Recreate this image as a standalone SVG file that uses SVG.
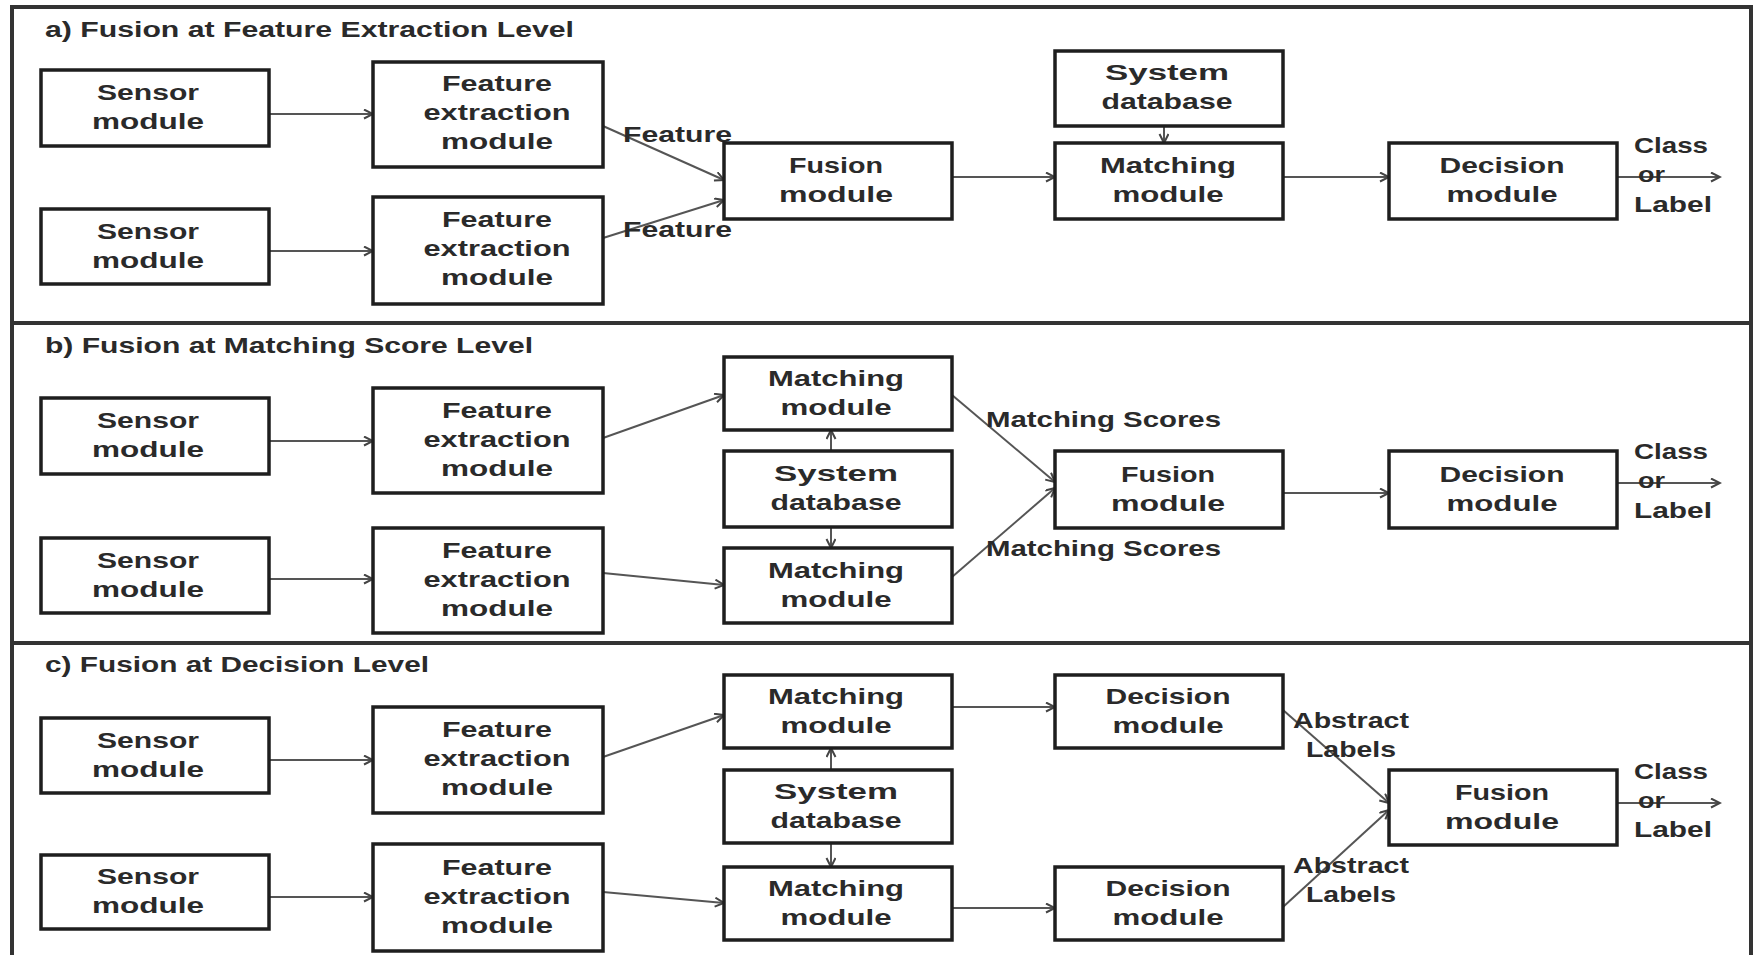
<svg xmlns="http://www.w3.org/2000/svg" width="1754" height="955" viewBox="0 0 1754 955">
<defs>
<marker id="ah" markerUnits="userSpaceOnUse" markerWidth="12" markerHeight="12" refX="10" refY="5" orient="auto">
<path d="M1,0.5 L10,5 L1,9.5" fill="none" stroke="#444" stroke-width="2"/>
</marker>
<style>
.box{fill:#fff;stroke:#1e1e1e;stroke-width:3.5}
.t{font-family:"Liberation Sans",Arial,sans-serif;font-weight:bold;font-size:22px;fill:#2a2a2a;text-anchor:middle}
.ts{font-family:"Liberation Sans",Arial,sans-serif;font-weight:bold;font-size:22px;fill:#2a2a2a;text-anchor:start}
.c{fill:none;stroke:#555;stroke-width:2;marker-end:url(#ah)}
.frame{fill:none;stroke:#333;stroke-width:4}
</style>
</defs>
<rect width="1754" height="955" fill="#fff"/>
<g id="frame">
<path class="frame" d="M12,955 L12,7 L1751,7 L1751,955"/>
<path class="frame" d="M12,323 L1751,323 M12,643 L1751,643"/>
</g>
<g id="titles">
<text class="ts" x="45" y="37" textLength="529" lengthAdjust="spacingAndGlyphs">a) Fusion at Feature Extraction Level</text>
<text class="ts" x="45" y="353" textLength="488" lengthAdjust="spacingAndGlyphs">b) Fusion at Matching Score Level</text>
<text class="ts" x="45" y="672" textLength="384" lengthAdjust="spacingAndGlyphs">c) Fusion at Decision Level</text>
</g>
<g id="connectors">
<line class="c" x1="269" y1="114" x2="373" y2="114"/>
<line class="c" x1="269" y1="251" x2="373" y2="251"/>
<line class="c" x1="603" y1="126" x2="724" y2="180"/>
<line class="c" x1="603" y1="238" x2="724" y2="200"/>
<line class="c" x1="952" y1="177" x2="1055" y2="177"/>
<line class="c" x1="1164" y1="126" x2="1164" y2="143"/>
<line class="c" x1="1283" y1="177" x2="1389" y2="177"/>
<line class="c" x1="1617" y1="177" x2="1720" y2="177"/>

<line class="c" x1="269" y1="441" x2="373" y2="441"/>
<line class="c" x1="269" y1="579" x2="373" y2="579"/>
<line class="c" x1="603" y1="438" x2="724" y2="395"/>
<line class="c" x1="603" y1="573" x2="724" y2="585"/>
<line class="c" x1="831" y1="451" x2="831" y2="430"/>
<line class="c" x1="831" y1="527" x2="831" y2="548"/>
<line class="c" x1="952" y1="395" x2="1055" y2="482"/>
<line class="c" x1="952" y1="577" x2="1055" y2="488"/>
<line class="c" x1="1283" y1="493" x2="1389" y2="493"/>
<line class="c" x1="1617" y1="483" x2="1720" y2="483"/>

<line class="c" x1="269" y1="760" x2="373" y2="760"/>
<line class="c" x1="269" y1="897" x2="373" y2="897"/>
<line class="c" x1="603" y1="757" x2="724" y2="715"/>
<line class="c" x1="603" y1="892" x2="724" y2="903"/>
<line class="c" x1="831" y1="770" x2="831" y2="748"/>
<line class="c" x1="831" y1="843" x2="831" y2="867"/>
<line class="c" x1="952" y1="707" x2="1055" y2="707"/>
<line class="c" x1="952" y1="908" x2="1055" y2="908"/>
<line class="c" x1="1283" y1="710" x2="1389" y2="803"/>
<line class="c" x1="1283" y1="907" x2="1389" y2="810"/>
<line class="c" x1="1617" y1="803" x2="1720" y2="803"/>
</g>
<g id="edge-labels">
<text class="ts" x="623" y="142" textLength="109" lengthAdjust="spacingAndGlyphs">Feature</text>
<text class="ts" x="623" y="237" textLength="109" lengthAdjust="spacingAndGlyphs">Feature</text>
<text class="ts" x="986" y="427" textLength="235" lengthAdjust="spacingAndGlyphs">Matching Scores</text>
<text class="ts" x="986" y="556" textLength="235" lengthAdjust="spacingAndGlyphs">Matching Scores</text>
<text class="ts" x="1293" y="728" textLength="116" lengthAdjust="spacingAndGlyphs">Abstract</text>
<text class="ts" x="1306" y="757" textLength="90" lengthAdjust="spacingAndGlyphs">Labels</text>
<text class="ts" x="1293" y="873" textLength="116" lengthAdjust="spacingAndGlyphs">Abstract</text>
<text class="ts" x="1306" y="902" textLength="90" lengthAdjust="spacingAndGlyphs">Labels</text>
<text class="ts" x="1634" y="153" textLength="74" lengthAdjust="spacingAndGlyphs">Class</text>
<text class="ts" x="1638" y="182" textLength="27" lengthAdjust="spacingAndGlyphs">or</text>
<text class="ts" x="1634" y="212" textLength="78" lengthAdjust="spacingAndGlyphs">Label</text>
<text class="ts" x="1634" y="459" textLength="74" lengthAdjust="spacingAndGlyphs">Class</text>
<text class="ts" x="1638" y="488" textLength="27" lengthAdjust="spacingAndGlyphs">or</text>
<text class="ts" x="1634" y="518" textLength="78" lengthAdjust="spacingAndGlyphs">Label</text>
<text class="ts" x="1634" y="779" textLength="74" lengthAdjust="spacingAndGlyphs">Class</text>
<text class="ts" x="1638" y="808" textLength="27" lengthAdjust="spacingAndGlyphs">or</text>
<text class="ts" x="1634" y="837" textLength="78" lengthAdjust="spacingAndGlyphs">Label</text>
</g>

<g id="a-sensor1"><rect class="box" x="41" y="70" width="228" height="76"/><text class="t" x="148" y="100" textLength="102" lengthAdjust="spacingAndGlyphs">Sensor</text><text class="t" x="148" y="129" textLength="112" lengthAdjust="spacingAndGlyphs">module</text></g>
<g id="a-sensor2"><rect class="box" x="41" y="209" width="228" height="75"/><text class="t" x="148" y="238.5" textLength="102" lengthAdjust="spacingAndGlyphs">Sensor</text><text class="t" x="148" y="267.5" textLength="112" lengthAdjust="spacingAndGlyphs">module</text></g>
<g id="a-fe1"><rect class="box" x="373" y="62" width="230" height="105"/><text class="t" x="497" y="90.5" textLength="110" lengthAdjust="spacingAndGlyphs">Feature</text><text class="t" x="497" y="119.5" textLength="147" lengthAdjust="spacingAndGlyphs">extraction</text><text class="t" x="497" y="148.5" textLength="112" lengthAdjust="spacingAndGlyphs">module</text></g>
<g id="a-fe2"><rect class="box" x="373" y="197" width="230" height="107"/><text class="t" x="497" y="226.5" textLength="110" lengthAdjust="spacingAndGlyphs">Feature</text><text class="t" x="497" y="255.5" textLength="147" lengthAdjust="spacingAndGlyphs">extraction</text><text class="t" x="497" y="284.5" textLength="112" lengthAdjust="spacingAndGlyphs">module</text></g>
<g id="a-fusion"><rect class="box" x="724" y="143" width="228" height="76"/><text class="t" x="836" y="173" textLength="94" lengthAdjust="spacingAndGlyphs">Fusion</text><text class="t" x="836" y="202" textLength="114" lengthAdjust="spacingAndGlyphs">module</text></g>
<g id="a-sysdb"><rect class="box" x="1055" y="51" width="228" height="75"/><text class="t" x="1167" y="80" textLength="124" lengthAdjust="spacingAndGlyphs">System</text><text class="t" x="1167" y="109" textLength="131" lengthAdjust="spacingAndGlyphs">database</text></g>
<g id="a-matching"><rect class="box" x="1055" y="143" width="228" height="76"/><text class="t" x="1168" y="173" textLength="136" lengthAdjust="spacingAndGlyphs">Matching</text><text class="t" x="1168" y="202" textLength="111" lengthAdjust="spacingAndGlyphs">module</text></g>
<g id="a-decision"><rect class="box" x="1389" y="143" width="228" height="76"/><text class="t" x="1502" y="173" textLength="125" lengthAdjust="spacingAndGlyphs">Decision</text><text class="t" x="1502" y="202" textLength="111" lengthAdjust="spacingAndGlyphs">module</text></g>

<g id="b-sensor1"><rect class="box" x="41" y="398" width="228" height="76"/><text class="t" x="148" y="428" textLength="102" lengthAdjust="spacingAndGlyphs">Sensor</text><text class="t" x="148" y="457" textLength="112" lengthAdjust="spacingAndGlyphs">module</text></g>
<g id="b-sensor2"><rect class="box" x="41" y="538" width="228" height="75"/><text class="t" x="148" y="567.5" textLength="102" lengthAdjust="spacingAndGlyphs">Sensor</text><text class="t" x="148" y="596.5" textLength="112" lengthAdjust="spacingAndGlyphs">module</text></g>
<g id="b-fe1"><rect class="box" x="373" y="388" width="230" height="105"/><text class="t" x="497" y="417.5" textLength="110" lengthAdjust="spacingAndGlyphs">Feature</text><text class="t" x="497" y="446.5" textLength="147" lengthAdjust="spacingAndGlyphs">extraction</text><text class="t" x="497" y="475.5" textLength="112" lengthAdjust="spacingAndGlyphs">module</text></g>
<g id="b-fe2"><rect class="box" x="373" y="528" width="230" height="105"/><text class="t" x="497" y="557.5" textLength="110" lengthAdjust="spacingAndGlyphs">Feature</text><text class="t" x="497" y="586.5" textLength="147" lengthAdjust="spacingAndGlyphs">extraction</text><text class="t" x="497" y="615.5" textLength="112" lengthAdjust="spacingAndGlyphs">module</text></g>
<g id="b-matching1"><rect class="box" x="724" y="357" width="228" height="73"/><text class="t" x="836" y="385.5" textLength="136" lengthAdjust="spacingAndGlyphs">Matching</text><text class="t" x="836" y="414.5" textLength="111" lengthAdjust="spacingAndGlyphs">module</text></g>
<g id="b-sysdb"><rect class="box" x="724" y="451" width="228" height="76"/><text class="t" x="836" y="481" textLength="124" lengthAdjust="spacingAndGlyphs">System</text><text class="t" x="836" y="510" textLength="131" lengthAdjust="spacingAndGlyphs">database</text></g>
<g id="b-matching2"><rect class="box" x="724" y="548" width="228" height="75"/><text class="t" x="836" y="577.5" textLength="136" lengthAdjust="spacingAndGlyphs">Matching</text><text class="t" x="836" y="606.5" textLength="111" lengthAdjust="spacingAndGlyphs">module</text></g>
<g id="b-fusion"><rect class="box" x="1055" y="451" width="228" height="77"/><text class="t" x="1168" y="481.5" textLength="94" lengthAdjust="spacingAndGlyphs">Fusion</text><text class="t" x="1168" y="510.5" textLength="114" lengthAdjust="spacingAndGlyphs">module</text></g>
<g id="b-decision"><rect class="box" x="1389" y="451" width="228" height="77"/><text class="t" x="1502" y="481.5" textLength="125" lengthAdjust="spacingAndGlyphs">Decision</text><text class="t" x="1502" y="510.5" textLength="111" lengthAdjust="spacingAndGlyphs">module</text></g>

<g id="c-sensor1"><rect class="box" x="41" y="718" width="228" height="75"/><text class="t" x="148" y="747.5" textLength="102" lengthAdjust="spacingAndGlyphs">Sensor</text><text class="t" x="148" y="776.5" textLength="112" lengthAdjust="spacingAndGlyphs">module</text></g>
<g id="c-sensor2"><rect class="box" x="41" y="855" width="228" height="74"/><text class="t" x="148" y="884" textLength="102" lengthAdjust="spacingAndGlyphs">Sensor</text><text class="t" x="148" y="913" textLength="112" lengthAdjust="spacingAndGlyphs">module</text></g>
<g id="c-fe1"><rect class="box" x="373" y="707" width="230" height="106"/><text class="t" x="497" y="737" textLength="110" lengthAdjust="spacingAndGlyphs">Feature</text><text class="t" x="497" y="766" textLength="147" lengthAdjust="spacingAndGlyphs">extraction</text><text class="t" x="497" y="795" textLength="112" lengthAdjust="spacingAndGlyphs">module</text></g>
<g id="c-fe2"><rect class="box" x="373" y="844" width="230" height="107"/><text class="t" x="497" y="874.5" textLength="110" lengthAdjust="spacingAndGlyphs">Feature</text><text class="t" x="497" y="903.5" textLength="147" lengthAdjust="spacingAndGlyphs">extraction</text><text class="t" x="497" y="932.5" textLength="112" lengthAdjust="spacingAndGlyphs">module</text></g>
<g id="c-matching1"><rect class="box" x="724" y="675" width="228" height="73"/><text class="t" x="836" y="703.5" textLength="136" lengthAdjust="spacingAndGlyphs">Matching</text><text class="t" x="836" y="732.5" textLength="111" lengthAdjust="spacingAndGlyphs">module</text></g>
<g id="c-sysdb"><rect class="box" x="724" y="770" width="228" height="73"/><text class="t" x="836" y="798.5" textLength="124" lengthAdjust="spacingAndGlyphs">System</text><text class="t" x="836" y="827.5" textLength="131" lengthAdjust="spacingAndGlyphs">database</text></g>
<g id="c-matching2"><rect class="box" x="724" y="867" width="228" height="73"/><text class="t" x="836" y="895.5" textLength="136" lengthAdjust="spacingAndGlyphs">Matching</text><text class="t" x="836" y="924.5" textLength="111" lengthAdjust="spacingAndGlyphs">module</text></g>
<g id="c-decision1"><rect class="box" x="1055" y="675" width="228" height="73"/><text class="t" x="1168" y="703.5" textLength="125" lengthAdjust="spacingAndGlyphs">Decision</text><text class="t" x="1168" y="732.5" textLength="111" lengthAdjust="spacingAndGlyphs">module</text></g>
<g id="c-decision2"><rect class="box" x="1055" y="867" width="228" height="73"/><text class="t" x="1168" y="895.5" textLength="125" lengthAdjust="spacingAndGlyphs">Decision</text><text class="t" x="1168" y="924.5" textLength="111" lengthAdjust="spacingAndGlyphs">module</text></g>
<g id="c-fusion"><rect class="box" x="1389" y="770" width="228" height="75"/><text class="t" x="1502" y="799.5" textLength="94" lengthAdjust="spacingAndGlyphs">Fusion</text><text class="t" x="1502" y="828.5" textLength="114" lengthAdjust="spacingAndGlyphs">module</text></g>
</svg>
